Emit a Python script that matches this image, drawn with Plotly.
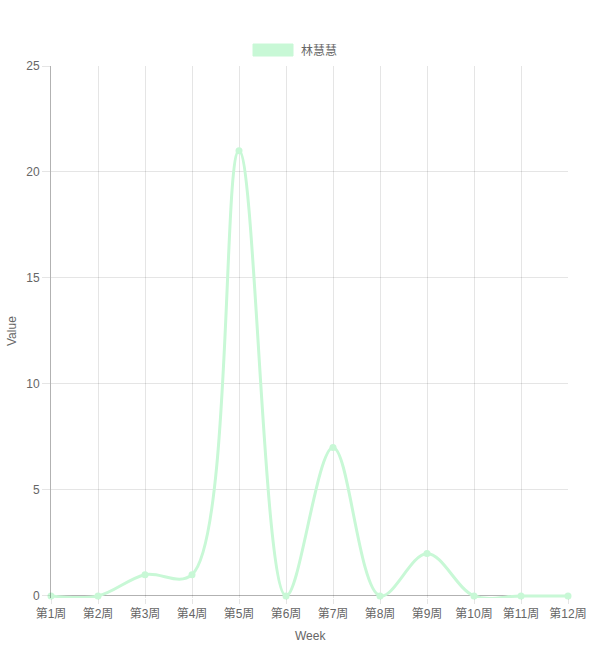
import plotly.graph_objects as go

weeks = ["第1周", "第2周", "第3周", "第4周", "第5周", "第6周",
         "第7周", "第8周", "第9周", "第10周", "第11周", "第12周"]
values = [0, 0, 1, 1, 21, 0, 7, 0, 2, 0, 0, 0]
series_name = "林慧慧"
color = "#c8f8d6"

FONT = "Liberation Sans, Arial, Noto Sans CJK SC, sans-serif"
GRID = "rgba(0,0,0,0.1)"
AXIS = "rgba(0,0,0,0.3)"

L, R, T, B = 51, 22, 66, 51
W, H = 590, 649
PW, PH = W - L - R, H - T - B


def px(xp):
    return (xp - L) / PW


def py(yp):
    return (H - B - yp) / PH


fig = go.Figure()
fig.add_trace(go.Scatter(
    x=list(range(len(weeks))), y=values, mode="lines+markers",
    name=series_name, showlegend=False,
    line=dict(color=color, width=3, shape="spline", smoothing=1.0),
    marker=dict(color=color, size=7),
    cliponaxis=False,
))

fig.update_layout(
    width=W, height=H,
    margin=dict(l=L, r=R, t=T, b=B),
    paper_bgcolor="white", plot_bgcolor="white",
    font=dict(family=FONT, size=12, color="#666"),
    showlegend=False,
    xaxis=dict(
        range=[0, 11], tickmode="array", automargin=False,
        tickvals=list(range(len(weeks))), ticktext=weeks,
        showgrid=True, gridcolor=GRID, gridwidth=1,
        ticks="outside", ticklen=5, tickcolor=GRID,
        showline=False, zeroline=False,
        tickfont=dict(size=12, color="#666"),
    ),
    yaxis=dict(
        range=[-0.1, 25], tickmode="array", tickvals=[0, 5, 10, 15, 20, 25],
        automargin=False,
        showgrid=True, gridcolor=GRID, gridwidth=1,
        ticks="outside", ticklen=8, tickcolor=GRID,
        showline=True, linecolor=AXIS, linewidth=1,
        zeroline=True, zerolinecolor=AXIS, zerolinewidth=1,
        tickfont=dict(size=12, color="#666"),
    ),
    shapes=[dict(
        type="rect", xref="paper", yref="paper",
        x0=px(253), x1=px(293), y0=py(56), y1=py(44),
        fillcolor=color, line=dict(color=color, width=1),
    )],
    annotations=[
        dict(text=series_name, xref="paper", yref="paper",
             x=px(299), y=py(50), xanchor="left", yanchor="middle",
             showarrow=False, font=dict(size=12, color="#666", family=FONT)),
        dict(text="Week", xref="paper", yref="paper",
             x=px(310), y=py(636), xanchor="center", yanchor="middle",
             showarrow=False, font=dict(size=12, color="#666", family=FONT)),
        dict(text="Value", xref="paper", yref="paper", textangle=-90,
             x=px(12), y=py(331), xanchor="center", yanchor="middle",
             showarrow=False, font=dict(size=12, color="#666", family=FONT)),
    ],
)

fig.write_html("out.html")
